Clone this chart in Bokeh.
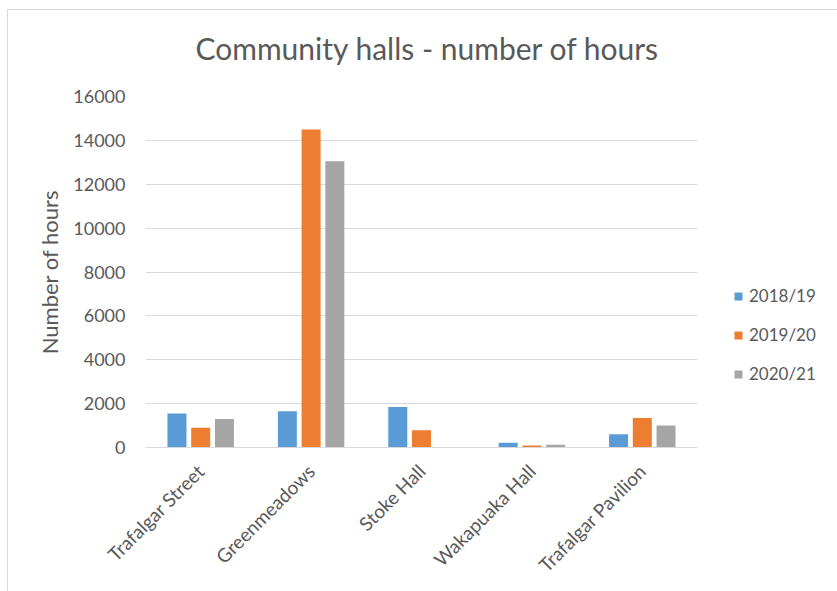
import math
from bokeh.plotting import figure
from bokeh.models import ColumnDataSource, Legend, LegendItem, Range1d, Title, FixedTicker
from bokeh.transform import dodge
from bokeh.embed import file_html
from bokeh.resources import INLINE

halls = ["Trafalgar Street", "Greenmeadows", "Stoke Hall", "Wakapuaka Hall", "Trafalgar Pavilion"]
years = ["2018/19", "2019/20", "2020/21"]
hours_2018_19 = [1550, 1650, 1850, 220, 600]
hours_2019_20 = [900, 14500, 790, 90, 1350]
hours_2020_21 = [1300, 13050, 0, 130, 1000]
y_ticks = [0, 2000, 4000, 6000, 8000, 10000, 12000, 14000, 16000]

colors = ["#5B9BD5", "#ED7D31", "#A5A5A5"]
FONT = "Lato"
TXT = "#595959"
GRID = "#d9d9d9"

n = len(halls)
centers = [i + 0.5 for i in range(n)]
source = ColumnDataSource(dict(x=centers, hall=halls, a=hours_2018_19, b=hours_2019_20, c=hours_2020_21))

# layout (pixels): frame from x=145 to 829, category area ends at 697
frame_left, cat_right, frame_right = 145, 697, 829
x_end = n * (frame_right - frame_left) / (cat_right - frame_left)

p = figure(x_range=Range1d(0, x_end), y_range=Range1d(0, 16000), title=None,
           width=829, height=581, output_backend="svg", toolbar_location=None,
           min_border_left=137, min_border_right=8, min_border_top=86, min_border_bottom=144)
p.margin = (10, 0, 0, 8)
p.styles = {"outline": "1px solid #d9d9d9"}

renderers = []
for col, off, c in zip(["a", "b", "c"], [-0.215, 0.0, 0.215], colors):
    r = p.vbar(x=dodge("x", off), top=col, width=0.172, source=source,
               fill_color=c, line_color=None)
    renderers.append(r)

# spacer between the frame and the title (closest to the frame)
spacer = Title(text=" ", text_font=FONT, text_font_size="10px", standoff=12,
               text_color="white")
p.add_layout(spacer, "above")
main_title = Title(text="Community halls - number of hours", align="left",
                   text_font=FONT, text_font_size="30px", text_font_style="normal",
                   text_color=TXT, offset=50, standoff=10)
p.add_layout(main_title, "above")

p.outline_line_color = None
p.background_fill_color = "white"
p.border_fill_color = "white"
p.xgrid.grid_line_color = None

grid_ok = False
try:
    p.ygrid[0].cross_bounds = (0, n)
    grid_ok = True
except Exception:
    grid_ok = False
if grid_ok:
    p.ygrid.ticker = FixedTicker(ticks=y_ticks)
    p.ygrid.grid_line_color = GRID
else:
    p.ygrid.grid_line_color = None
    p.segment(x0=[0] * len(y_ticks), x1=[n] * len(y_ticks), y0=y_ticks, y1=y_ticks,
              line_color=GRID, line_width=1, level="underlay")

p.yaxis.ticker = FixedTicker(ticks=y_ticks)
p.yaxis.axis_line_color = None
p.yaxis.major_tick_line_color = None
p.yaxis.minor_tick_line_color = None
p.yaxis.major_label_text_font = FONT
p.yaxis.major_label_text_font_size = "18px"
p.yaxis.major_label_text_color = TXT
p.yaxis.major_label_standoff = 14
p.yaxis.axis_label = "Number of hours"
p.yaxis.axis_label_text_font = FONT
p.yaxis.axis_label_text_font_size = "22px"
p.yaxis.axis_label_text_font_style = "normal"
p.yaxis.axis_label_text_color = TXT
p.yaxis.axis_label_standoff = 7

p.xaxis.ticker = FixedTicker(ticks=centers)
p.xaxis.major_label_overrides = {c: h for c, h in zip(centers, halls)}
p.xaxis.bounds = (0, n)
p.xaxis.axis_line_color = GRID
p.xaxis.major_tick_line_color = None
p.xaxis.minor_tick_line_color = None
p.xaxis.major_label_orientation = math.pi / 4
p.xaxis.major_label_text_font = FONT
p.xaxis.major_label_text_font_size = "19px"
p.xaxis.major_label_text_color = TXT
p.xaxis.major_label_standoff = 14

legend = Legend(items=[LegendItem(label=y, renderers=[r]) for y, r in zip(years, renderers)],
                location=(588, 63), orientation="vertical")
legend.border_line_color = None
legend.background_fill_alpha = 0
legend.padding = 0
legend.margin = 0
legend.spacing = 18
legend.glyph_width = 10
legend.glyph_height = 10
legend.label_standoff = 6
legend.label_height = 20
legend.label_text_font = FONT
legend.label_text_font_size = "17px"
legend.label_text_color = TXT
p.add_layout(legend, "center")

open("out.html", "w").write(file_html(p, INLINE))
